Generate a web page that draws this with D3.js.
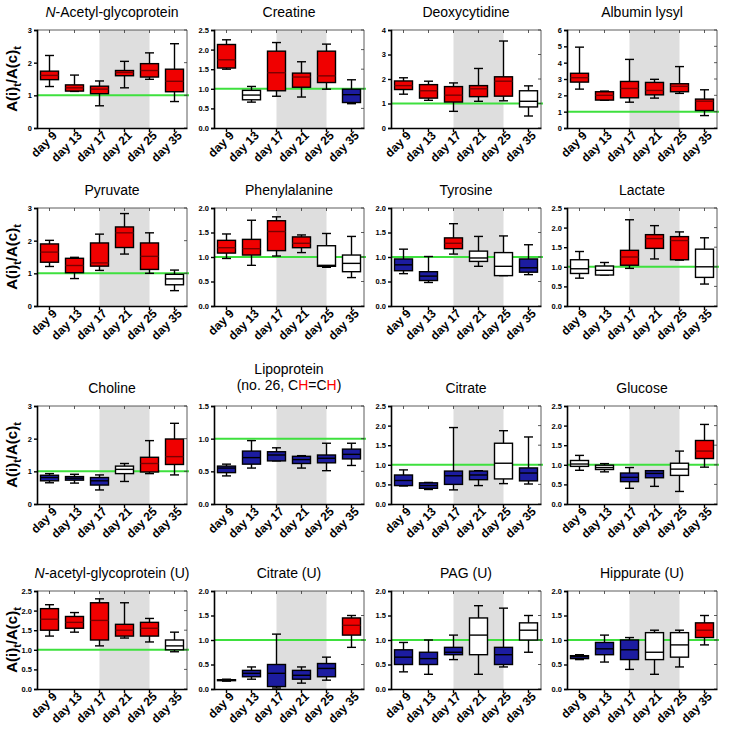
<!DOCTYPE html>
<html><head><meta charset="utf-8">
<script src="https://cdn.jsdelivr.net/npm/d3@7"></script>
<style>body{margin:0;background:#fff} text{font-family:"Liberation Sans",Arial,sans-serif}</style>
</head><body><svg id="c" width="729" height="731"></svg>
<script>
// categories
const days = ["day 9","day 13","day 17","day 21","day 25","day 35"];
// panel titles
const titles = ["N-Acetyl-glycoprotein","Creatine","Deoxycytidine","Albumin lysyl",
  "Pyruvate","Phenylalanine","Tyrosine","Lactate",
  "Choline","Lipoprotein","Citrate","Glucose",
  "N-acetyl-glycoprotein (U)","Citrate (U)","PAG (U)","Hippurate (U)"];
// y-axis maxima and tick steps
const yMaxes = [3,2.5,4,6, 3,2,2,2.5, 3,1.5,2.5,2.5, 2.5,2,2,2];
const yTickSteps = [1,0.5,1,1, 1,0.5,0.5,0.5, 1,0.5,0.5,0.5, 0.5,0.5,0.5,0.5];
// box colours per day: R = increased, B = decreased, W = unchanged
const boxColors = ["RRRRRR","RWRRRB","RRRRRW","RRRRRR",
  "RRRRRW","RRRRWW","BBRWWB","WWRRRW",
  "BBBWRR","BBBBBB","BBBBWB","WWBBWR",
  "RRRRRW","BBBBBR","BBBWBW","BBBWWR"];
// [min, q1, median, q3, max] per day
const nAcetylGlycoprotein = [[1.27,1.48,1.61,1.74,2.22],[1.12,1.13,1.23,1.32,1.62],[0.68,1.05,1.19,1.28,1.44],[1.23,1.60,1.70,1.76,2.04],[1.49,1.56,1.76,1.97,2.30],[0.81,1.11,1.43,1.80,2.58]];
const creatine = [[1.50,1.53,1.74,2.13,2.25],[0.66,0.72,0.84,0.96,1.06],[0.81,0.95,1.41,1.96,2.18],[0.79,1.04,1.30,1.40,1.69],[0.99,1.16,1.33,1.96,2.14],[0.62,0.65,0.85,0.99,1.23]];
const deoxycytidine = [[1.38,1.57,1.73,1.92,2.05],[1.13,1.22,1.52,1.77,1.91],[0.68,1.06,1.34,1.69,1.84],[1.09,1.28,1.60,1.73,2.43],[1.11,1.30,1.91,2.09,3.55],[0.49,0.86,1.09,1.52,1.72]];
const albuminLysyl = [[2.38,2.81,3.08,3.35,4.95],[1.70,1.71,2.00,2.22,2.26],[1.58,1.85,2.42,2.85,4.20],[1.83,2.03,2.30,2.79,2.98],[2.12,2.22,2.55,2.71,3.76],[0.76,1.07,1.64,1.77,2.34]];
const pyruvate = [[1.21,1.34,1.65,1.90,2.01],[0.84,1.02,1.24,1.46,1.49],[1.09,1.22,1.32,1.93,2.20],[1.59,1.79,2.24,2.42,2.83],[1.00,1.12,1.52,1.93,2.24],[0.47,0.65,0.83,0.97,1.10]];
const phenylalanine = [[0.97,1.08,1.19,1.34,1.47],[0.83,1.04,1.17,1.36,1.75],[1.02,1.13,1.52,1.74,1.82],[1.09,1.19,1.28,1.41,1.45],[0.79,0.81,0.83,1.23,1.48],[0.58,0.70,0.87,1.04,1.42]];
const tyrosine = [[0.66,0.72,0.84,0.96,1.16],[0.48,0.52,0.61,0.70,1.01],[1.06,1.17,1.28,1.39,1.68],[0.81,0.91,0.98,1.12,1.42],[0.62,0.62,0.81,1.09,1.43],[0.64,0.69,0.78,0.96,1.25]];
const lactate = [[0.71,0.83,0.95,1.18,1.39],[0.79,0.79,0.91,1.02,1.11],[0.96,1.04,1.25,1.42,2.20],[1.20,1.47,1.72,1.82,2.05],[1.17,1.18,1.67,1.77,1.89],[0.56,0.73,1.00,1.45,1.74]];
const choline = [[0.65,0.71,0.81,0.88,0.93],[0.64,0.73,0.79,0.84,0.91],[0.43,0.58,0.71,0.81,0.89],[0.69,0.93,1.06,1.16,1.24],[0.93,0.98,1.24,1.43,1.94],[0.89,1.21,1.45,1.99,2.47]];
const lipoprotein = [[0.43,0.48,0.55,0.58,0.61],[0.55,0.61,0.71,0.81,0.97],[0.66,0.66,0.75,0.80,0.86],[0.55,0.62,0.68,0.73,0.74],[0.51,0.63,0.70,0.75,0.93],[0.59,0.69,0.76,0.84,0.93]];
const citrate = [[0.46,0.47,0.60,0.74,0.87],[0.37,0.40,0.47,0.54,0.55],[0.36,0.50,0.72,0.84,1.95],[0.47,0.62,0.74,0.84,0.85],[0.52,0.64,1.04,1.55,1.87],[0.51,0.59,0.79,0.92,1.71]];
const glucose = [[0.86,0.96,1.02,1.11,1.24],[0.82,0.88,0.93,0.99,1.03],[0.40,0.57,0.68,0.79,0.93],[0.45,0.67,0.78,0.85,0.85],[0.32,0.73,0.89,1.04,1.35],[0.94,1.16,1.35,1.62,2.03]];
const nAcetylGlycoproteinU = [[1.35,1.50,1.78,2.05,2.15],[1.45,1.55,1.70,1.85,1.95],[1.10,1.25,1.75,2.20,2.30],[1.30,1.35,1.50,1.65,2.20],[1.20,1.35,1.55,1.70,1.80],[0.95,1.00,1.10,1.25,1.45]];
const citrateU = [[0.16,0.17,0.18,0.19,0.20],[0.20,0.25,0.32,0.38,0.45],[0.02,0.05,0.32,0.50,1.12],[0.12,0.20,0.28,0.38,0.45],[0.18,0.25,0.42,0.52,0.65],[0.85,1.10,1.30,1.45,1.50]];
const pagU = [[0.35,0.50,0.65,0.80,0.95],[0.30,0.50,0.62,0.75,1.00],[0.60,0.70,0.75,0.85,1.10],[0.30,0.70,1.10,1.45,1.70],[0.45,0.50,0.70,0.85,1.65],[0.75,1.00,1.20,1.35,1.50]];
const hippurateU = [[0.60,0.62,0.66,0.68,0.70],[0.55,0.70,0.82,0.95,1.10],[0.40,0.60,0.80,1.00,1.05],[0.30,0.60,0.75,1.15,1.20],[0.45,0.65,0.90,1.15,1.20],[0.90,1.05,1.20,1.35,1.50]];

const allData = [nAcetylGlycoprotein,creatine,deoxycytidine,albuminLysyl,pyruvate,phenylalanine,tyrosine,lactate,choline,lipoprotein,citrate,glucose,nAcetylGlycoproteinU,citrateU,pagU,hippurateU];

const colX = [37,214,391,567];
const rowY = [30,208,406,591];
const W = 150, H = 98;
const fillOf = {R:"#f00000", B:"#1c1ca0", W:"#ffffff"};

const svg = d3.select("#c");

allData.forEach((data, i) => {
  const r = Math.floor(i/4), c = i%4;
  const g = svg.append("g").attr("transform",`translate(${colX[c]},${rowY[r]})`);
  const x = d3.scaleBand().domain(days).range([0,W]);
  const y = d3.scaleLinear().domain([0,yMaxes[i]]).range([H,0]);
  const cx = d => x(d) + x.bandwidth()/2;
  // shaded period
  g.append("rect").attr("x",cx("day 17")).attr("y",0)
    .attr("width",cx("day 25")-cx("day 17")).attr("height",H).attr("fill","#dedede");
  // reference line
  g.append("line").attr("x1",0).attr("x2",W+2).attr("y1",y(1)).attr("y2",y(1))
    .attr("stroke","#3ee03e").attr("stroke-width",2);
  // boxes
  const bw = 18, cap = 9;
  data.forEach((v, j) => {
    const xc = cx(days[j]);
    const col = boxColors[i][j];
    const [mn,q1,md,q3,mx] = v;
    const bg = g.append("g").attr("stroke","#000").attr("stroke-width",1.4);
    bg.append("line").attr("x1",xc).attr("x2",xc).attr("y1",y(mx)).attr("y2",y(q3));
    bg.append("line").attr("x1",xc).attr("x2",xc).attr("y1",y(q1)).attr("y2",y(mn));
    bg.append("line").attr("x1",xc-cap/2).attr("x2",xc+cap/2).attr("y1",y(mx)).attr("y2",y(mx));
    bg.append("line").attr("x1",xc-cap/2).attr("x2",xc+cap/2).attr("y1",y(mn)).attr("y2",y(mn));
    bg.append("rect").attr("x",xc-bw/2).attr("y",y(q3)).attr("width",bw)
      .attr("height",Math.max(0.5,y(q1)-y(q3))).attr("fill",fillOf[col]);
    bg.append("line").attr("x1",xc-bw/2).attr("x2",xc+bw/2).attr("y1",y(md)).attr("y2",y(md))
      .attr("stroke",col==="R"?"#7a0000":"#000");
  });
  // frame (top and right)
  g.append("line").attr("x1",0).attr("x2",W).attr("y1",0).attr("y2",0).attr("stroke","#333").attr("stroke-width",0.8);
  g.append("line").attr("x1",W).attr("x2",W).attr("y1",0).attr("y2",H).attr("stroke","#333").attr("stroke-width",0.8);
  const step = yTickSteps[i];
  const ticks = d3.range(0, yMaxes[i]+1e-9, step);
  const fmt = step < 1 ? d3.format(".1f") : d3.format("d");
  ticks.forEach(t => g.append("line").attr("x1",W-3).attr("x2",W).attr("y1",y(t)).attr("y2",y(t)).attr("stroke","#333").attr("stroke-width",0.8));
  days.forEach(d => g.append("line").attr("x1",cx(d)).attr("x2",cx(d)).attr("y1",0).attr("y2",3).attr("stroke","#333").attr("stroke-width",0.8));
  // axes
  const ya = g.append("g").call(d3.axisLeft(y).tickValues(ticks).tickFormat(fmt).tickSize(3).tickPadding(2));
  ya.select(".domain").attr("stroke-width",1.6);
  ya.selectAll(".tick line").attr("stroke-width",1.4);
  ya.selectAll("text").attr("font-size",7.5).attr("font-weight","bold").attr("font-family","Liberation Sans, Arial, sans-serif");
  const xa = g.append("g").attr("transform",`translate(0,${H})`).call(d3.axisBottom(x).tickSize(4).tickSizeOuter(0).tickPadding(2));
  xa.select(".domain").attr("stroke-width",1.6);
  xa.selectAll(".tick line").attr("stroke-width",1.4);
  xa.selectAll("text").attr("font-size",12).attr("font-weight","bold")
    .attr("font-family","Liberation Sans, Arial, sans-serif")
    .attr("text-anchor","end").attr("dy",0)
    .attr("transform","translate(4,4) rotate(-45)");
  // title
  const tt = g.append("text").attr("x",W/2).attr("text-anchor","middle").attr("font-size",14).attr("fill","#000");
  const title = titles[i];
  if (i === 9) {
    tt.attr("y",-32).text("Lipoprotein");
    const t2 = g.append("text").attr("x",W/2).attr("y",-16).attr("text-anchor","middle").attr("font-size",14);
    t2.append("tspan").text("(no. 26, C");
    t2.append("tspan").attr("fill","#f00").text("H");
    t2.append("tspan").text("=C");
    t2.append("tspan").attr("fill","#f00").text("H");
    t2.append("tspan").text(")");
  } else {
    tt.attr("y",-13);
    if (title.startsWith("N-")) {
      tt.append("tspan").attr("font-style","italic").text("N");
      tt.append("tspan").text(title.slice(1));
    } else tt.text(title);
  }
  // y label in first column
  if (c === 0) {
    const yl = g.append("text").attr("transform",`translate(-20,${H/2}) rotate(-90)`)
      .attr("text-anchor","middle").attr("font-size",15).attr("font-weight","bold");
    yl.append("tspan").text("A(i)");
    yl.append("tspan").attr("font-size",11).attr("dy",4).text("t");
    yl.append("tspan").attr("dy",-4).text("/A(c)");
    yl.append("tspan").attr("font-size",11).attr("dy",4).text("t");
  }
});
</script></body></html>
